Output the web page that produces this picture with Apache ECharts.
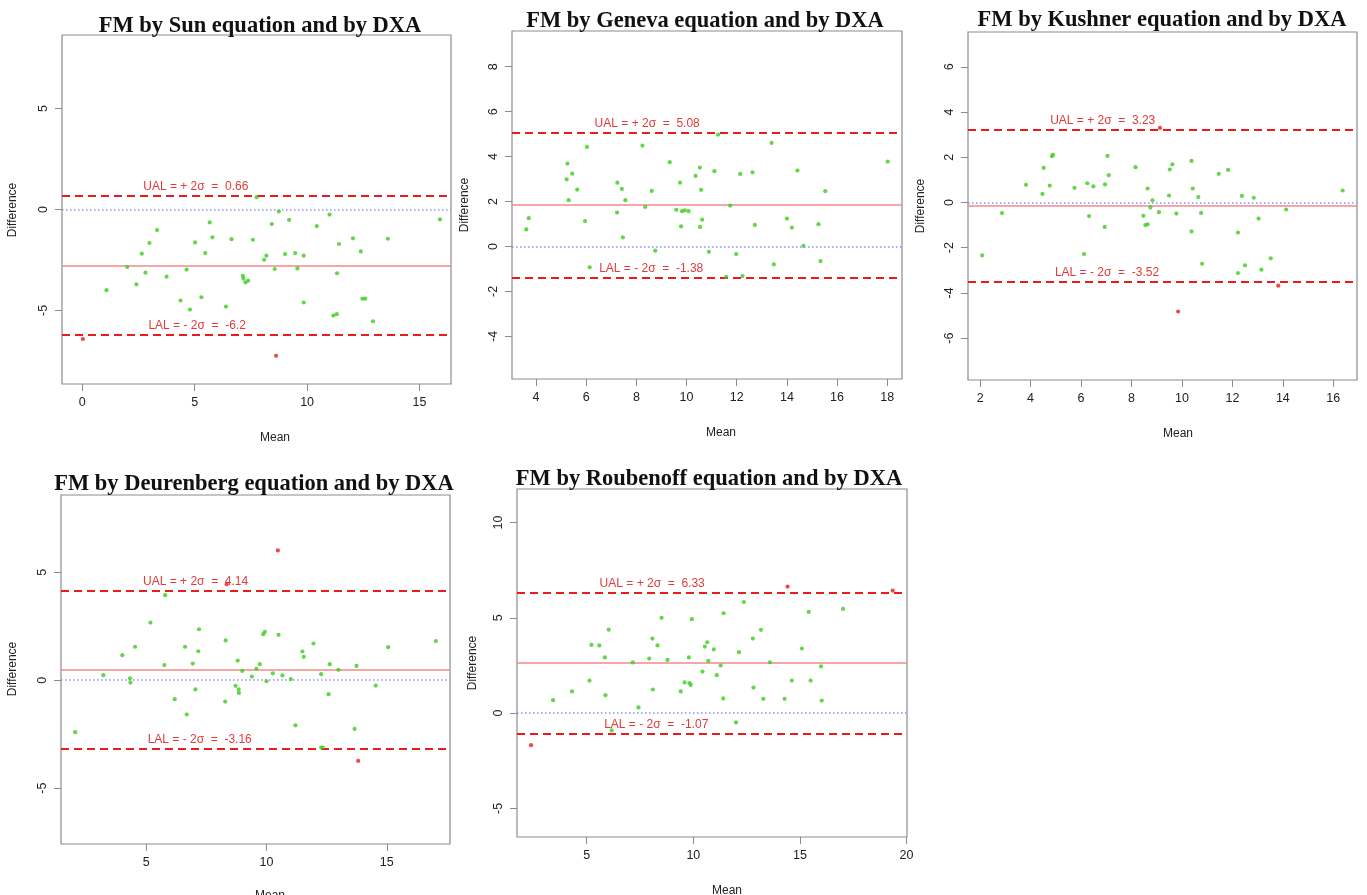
<!DOCTYPE html>
<html>
<head>
<meta charset="utf-8">
<title>FM Bland-Altman plots</title>
<script src="https://cdn.jsdelivr.net/npm/echarts@6/dist/echarts.min.js"></script>
<style>
  html, body { margin: 0; padding: 0; background: #fff; }
  #chart { width: 1367px; height: 895px; }
</style>
</head>
<body>
<div id="chart"></div>
<script>
// Sun equation vs DXA
const sunMean = [0.03, 1.08, 2.0, 2.41, 2.65, 2.81, 2.99, 3.33, 3.75, 4.37, 4.64, 4.79, 5.02, 5.30, 5.47, 5.67, 5.79, 6.39, 6.64, 7.14, 7.17, 7.26, 7.38, 7.59, 7.76, 8.09, 8.19, 8.43, 8.56, 8.62, 8.74, 9.02, 9.2, 9.47, 9.57, 9.85, 9.85, 10.43, 11.0, 11.17, 11.32, 11.33, 11.42, 12.04, 12.39, 12.46, 12.59, 12.93, 13.59, 15.91];
const sunDiff = [-6.42, -4.0, -2.85, -3.71, -2.19, -3.13, -1.66, -1.02, -3.33, -4.51, -2.98, -4.96, -1.63, -4.35, -2.16, -0.64, -1.38, -4.81, -1.47, -3.29, -3.43, -3.61, -3.53, -1.50, 0.61, -2.49, -2.29, -0.72, -2.95, -7.25, -0.10, -2.21, -0.51, -2.16, -2.92, -2.29, -4.61, -0.82, -0.25, -5.26, -5.19, -3.16, -1.71, -1.43, -2.08, -4.42, -4.42, -5.54, -1.45, -0.49];

// Geneva equation vs DXA
const genevaMean = [3.61, 3.71, 5.22, 5.25, 5.30, 5.44, 5.64, 5.95, 6.03, 6.14, 7.23, 7.24, 7.42, 7.46, 7.56, 8.24, 8.35, 8.61, 8.75, 9.33, 9.59, 9.74, 9.78, 9.82, 9.93, 10.08, 10.36, 10.53, 10.54, 10.58, 10.62, 10.89, 11.11, 11.26, 11.58, 11.74, 11.98, 12.14, 12.23, 12.63, 12.72, 13.39, 13.48, 14.0, 14.2, 14.42, 14.66, 15.26, 15.34, 15.53, 18.02];
const genevaDiff = [0.76, 1.26, 2.99, 3.69, 2.06, 3.24, 2.53, 1.13, 4.43, -0.93, 1.51, 2.84, 2.56, 0.40, 2.06, 4.49, 1.76, 2.47, -0.19, 3.75, 1.63, 2.84, 0.89, 1.57, 1.61, 1.57, 3.14, 3.51, 0.87, 2.52, 1.19, -0.24, 3.35, 4.98, -1.35, 1.82, -0.34, 3.23, -1.32, 3.30, 0.96, 4.61, -0.80, 1.24, 0.84, 3.38, 0.03, 0.99, -0.65, 2.46, 3.78];

// Kushner equation vs DXA
const kushnerMean = [2.08, 2.87, 3.82, 4.47, 4.52, 4.76, 4.85, 4.89, 5.74, 6.12, 6.25, 6.32, 6.49, 6.94, 6.95, 7.05, 7.10, 8.16, 8.47, 8.55, 8.64, 8.64, 8.75, 8.83, 9.13, 9.09, 9.49, 9.52, 9.62, 9.78, 9.85, 10.38, 10.38, 10.43, 10.65, 10.76, 10.80, 11.46, 11.83, 12.22, 12.22, 12.38, 12.50, 12.85, 13.04, 13.15, 13.52, 13.82, 14.13, 16.37];
const kushnerDiff = [-2.34, -0.47, 0.78, 0.38, 1.53, 0.75, 2.05, 2.11, 0.65, -2.28, 0.85, -0.60, 0.71, -1.08, 0.80, 2.06, 1.21, 1.56, -0.59, -1.0, -0.97, 0.62, -0.22, 0.10, 3.30, -0.43, 0.31, 1.46, 1.69, -0.49, -4.82, 1.84, -1.28, 0.62, 0.24, -0.46, -2.71, 1.27, 1.44, -1.33, -3.12, 0.29, -2.78, 0.21, -0.71, -2.97, -2.47, -3.68, -0.31, 0.53];

// Deurenberg equation vs DXA
const deurenbergMean = [2.04, 3.21, 4.0, 4.32, 4.34, 4.53, 5.17, 5.75, 5.78, 6.18, 6.61, 6.68, 6.93, 7.04, 7.16, 7.19, 8.28, 8.30, 8.34, 8.71, 8.80, 8.84, 8.85, 8.99, 9.39, 9.58, 9.72, 9.86, 9.93, 10.0, 10.26, 10.47, 10.50, 10.66, 11.01, 11.20, 11.49, 11.55, 11.95, 12.27, 12.27, 12.34, 12.58, 12.63, 12.99, 13.66, 13.74, 13.81, 14.54, 15.06, 17.04];
const deurenbergDiff = [-2.41, 0.23, 1.16, 0.09, -0.11, 1.55, 2.67, 0.70, 3.94, -0.88, 1.55, -1.59, 0.77, -0.43, 1.34, 2.36, -0.99, 1.84, 4.44, -0.26, 0.91, -0.42, -0.59, 0.43, 0.17, 0.53, 0.74, 2.13, 2.24, -0.05, 0.32, 6.01, 2.10, 0.22, 0.05, -2.09, 1.33, 1.08, 1.70, 0.28, -3.12, -3.12, -0.65, 0.74, 0.48, -2.26, 0.66, -3.74, -0.25, 1.53, 1.81];

// Roubenoff equation vs DXA
const roubenoffMean = [2.39, 3.42, 4.31, 5.13, 5.22, 5.59, 5.85, 5.88, 6.03, 6.17, 7.16, 7.43, 7.93, 8.08, 8.10, 8.32, 8.51, 8.79, 9.41, 9.59, 9.79, 9.82, 9.88, 9.93, 10.43, 10.54, 10.65, 10.70, 10.96, 11.10, 11.28, 11.40, 11.42, 12.0, 12.14, 12.37, 12.79, 12.82, 13.17, 13.28, 13.59, 14.28, 14.42, 14.62, 15.09, 15.41, 15.50, 15.99, 16.02, 17.02, 19.35];
const roubenoffDiff = [-1.68, 0.68, 1.14, 1.71, 3.58, 3.55, 2.92, 0.94, 4.38, -0.91, 2.66, 0.30, 2.86, 3.91, 1.24, 3.55, 5.0, 2.79, 1.14, 1.61, 2.92, 1.57, 1.48, 4.93, 2.18, 3.49, 3.72, 2.74, 3.34, 1.99, 2.50, 0.77, 5.24, -0.49, 3.20, 5.83, 3.91, 1.34, 4.37, 0.75, 2.67, 0.75, 6.64, 1.71, 3.39, 5.31, 1.71, 2.45, 0.66, 5.47, 6.43];

const panelNames = ["Sun", "Geneva", "Kushner", "Deurenberg", "Roubenoff"];
const biasValues = [-2.77, 1.85, -0.145, 0.49, 2.63];
const upperLimits = [0.66, 5.08, 3.23, 4.14, 6.33];
const lowerLimits = [-6.2, -1.38, -3.52, -3.16, -1.07];

const xTickValues = [[0, 5, 10, 15], [4, 6, 8, 10, 12, 14, 16, 18], [2, 4, 6, 8, 10, 12, 14, 16], [5, 10, 15], [5, 10, 15, 20]];
const yTickValues = [[-5, 0, 5], [-4, -2, 0, 2, 4, 6, 8], [-6, -4, -2, 0, 2, 4, 6], [-5, 0, 5], [-5, 0, 5, 10]];
const xRanges = [[-0.9, 16.4], [3.04, 18.59], [1.52, 16.94], [1.45, 17.63], [1.73, 20.02]];
const yRanges = [[-8.65, 8.65], [-5.9, 9.59], [-7.85, 7.54], [-7.59, 8.58], [-6.5, 11.76]];
// where the UAL / LAL captions sit along x
const ualLabelX = [5.05, 8.43, 6.86, 7.05, 8.07];
const lalLabelX = [5.11, 8.59, 7.03, 7.22, 8.26];

const means = [sunMean, genevaMean, kushnerMean, deurenbergMean, roubenoffMean];
const diffs = [sunDiff, genevaDiff, kushnerDiff, deurenbergDiff, roubenoffDiff];

// layout of the five plot boxes
const boxes = [
  { left: 62, top: 35, width: 389, height: 349 },
  { left: 512, top: 31, width: 390, height: 348 },
  { left: 968, top: 32, width: 389, height: 348 },
  { left: 61, top: 495, width: 389, height: 349 },
  { left: 517, top: 489, width: 390, height: 348 }
];
const titlePos = [[255, 10], [700, 5], [1157, 4], [249, 468], [704, 463]];
const meanNamePos = [[260, 432], [706, 427], [1163, 428], [255, 890], [712, 885]];
const diffNamePos = [[13, 210], [465, 205], [921, 206], [13, 669], [473, 663]];

const FONT = "'Liberation Sans', Arial, sans-serif";
const GREEN = "#3ccc1e";
const RED = "#e81c1c";
const BOX = "#8c8c8c";

const chart = echarts.init(document.getElementById("chart"));

const grids = [], xAxes = [], yAxes = [], series = [], titles = [], graphics = [];

panelNames.forEach((name, i) => {
  grids.push({ ...boxes[i], show: true, borderColor: BOX, borderWidth: 1.2, backgroundColor: "transparent", containLabel: false });

  titles.push({
    text: `FM by ${name} equation and by DXA`,
    left: titlePos[i][0], top: titlePos[i][1], textAlign: "center",
    textStyle: { fontFamily: "'Liberation Serif', 'Times New Roman', serif", fontWeight: "bold", fontSize: 22.5, color: "#111" }
  });

  xAxes.push({
    type: "value", gridIndex: i, position: "bottom", min: xRanges[i][0], max: xRanges[i][1],
    splitLine: { show: false },
    axisLine: { show: false, onZero: false },
    axisTick: { show: true, inside: false, length: 7, lineStyle: { color: BOX }, customValues: xTickValues[i] },
    axisLabel: { show: true, margin: 12, fontFamily: FONT, fontSize: 12.5, color: "#222", customValues: xTickValues[i] }
  });
  yAxes.push({
    type: "value", gridIndex: i, position: "left", min: yRanges[i][0], max: yRanges[i][1],
    splitLine: { show: false },
    axisLine: { show: false, onZero: false },
    axisTick: { show: true, inside: false, length: 7, lineStyle: { color: BOX }, customValues: yTickValues[i] },
    axisLabel: { show: true, rotate: 90, margin: 12, fontFamily: FONT, fontSize: 12.5, color: "#222", customValues: yTickValues[i] }
  });

  const upper = upperLimits[i], lower = lowerLimits[i];
  const points = means[i].map((m, k) => [m, diffs[i][k]]);

  series.push({
    type: "scatter", xAxisIndex: i, yAxisIndex: i, z: 5,
    symbolSize: 4.2,
    data: points,
    itemStyle: { color: p => (p.value[1] > upper || p.value[1] < lower) ? RED : GREEN },
    markLine: {
      silent: true, symbol: "none", animation: false,
      label: { show: false },
      data: [
        { yAxis: 0, lineStyle: { color: "#8c8cff", type: [1.5, 2.5], width: 1.6 } },
        { yAxis: biasValues[i], lineStyle: { color: "#f08a8a", type: "solid", width: 1.6 } },
        { yAxis: upper, lineStyle: { color: RED, type: [8, 5], width: 2 } },
        { yAxis: lower, lineStyle: { color: RED, type: [8, 5], width: 2 } }
      ]
    },
    markPoint: {
      silent: true, symbol: "circle", symbolSize: 0, animation: false,
      label: { show: true, position: "top", distance: 3, fontFamily: FONT, fontSize: 12, color: "#e03a3a", formatter: p => p.name },
      data: [
        { name: `UAL = + 2σ  =  ${upper}`, coord: [ualLabelX[i], upper] },
        { name: `LAL = - 2σ  =  ${lower}`, coord: [lalLabelX[i], lower] }
      ]
    }
  });

  graphics.push({
    type: "text", left: meanNamePos[i][0], top: meanNamePos[i][1],
    style: { text: "Mean", font: `12px ${FONT}`, fill: "#222", textAlign: "center", textVerticalAlign: "middle" }
  });
  graphics.push({
    type: "text", x: diffNamePos[i][0], y: diffNamePos[i][1], rotation: Math.PI / 2,
    style: { text: "Difference", font: `12px ${FONT}`, fill: "#222", textAlign: "center", textVerticalAlign: "middle" }
  });
});

chart.setOption({
  animation: false,
  backgroundColor: "#fff",
  title: titles,
  grid: grids,
  xAxis: xAxes,
  yAxis: yAxes,
  series: series,
  graphic: graphics
});
</script>
</body>
</html>
